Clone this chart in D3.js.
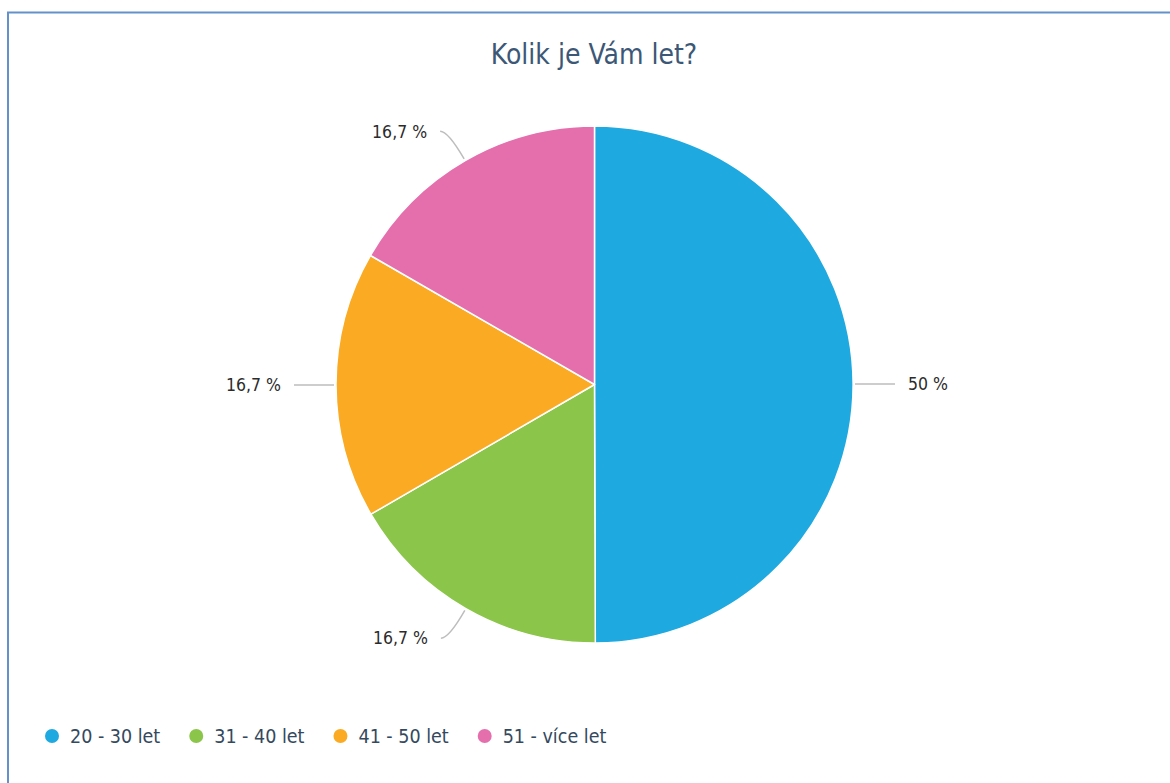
<!DOCTYPE html>
<html>
<head>
<meta charset="utf-8">
<script src="https://cdn.jsdelivr.net/npm/d3@7"></script>
<style>
  html, body { margin: 0; padding: 0; background: #fff; }
  svg { display: block; }
  text { font-family: "DejaVu Sans Condensed", "DejaVu Sans", sans-serif; font-stretch: condensed; }
</style>
</head>
<body>
<div id="chart"></div>
<script>
// chart data
var title = 'Kolik je Vám let?';
var categories = ['20 - 30 let', '31 - 40 let', '41 - 50 let', '51 - více let'];
var shares = [50, 16.7, 16.7, 16.7];
var colors = ['#1fa9e1', '#8bc54a', '#fbaa23', '#e56fad'];

var width = 1170;
var height = 783;

var svg = d3.select('#chart').append('svg')
  .attr('width', width)
  .attr('height', height);

// frame (only top and left edges are visible in the shot)
svg.append('rect')
  .attr('x', 8)
  .attr('y', 12.5)
  .attr('width', width + 20)
  .attr('height', height + 20)
  .attr('fill', 'none')
  .attr('stroke', '#6591cb')
  .attr('stroke-width', 2);

svg.append('text')
  .attr('x', 594)
  .attr('y', 64)
  .attr('text-anchor', 'middle')
  .attr('font-size', 28)
  .attr('fill', '#3c5876')
  .text(title);

var cx = 594.5;
var cy = 384.5;
var radius = 258.5;

var pie = d3.pie().sort(null).value(function(d) { return d; });
var arcs = pie(shares);

var arc = d3.arc().innerRadius(0).outerRadius(radius);

var g = svg.append('g')
  .attr('transform', 'translate(' + cx + ',' + cy + ')');

g.selectAll('.slice')
  .data(arcs)
  .enter().append('path')
    .attr('class', 'slice')
    .attr('d', arc)
    .attr('fill', function(d, i) { return colors[i]; })
    .attr('stroke', '#fff')
    .attr('stroke-width', 1.5)
    .attr('stroke-linejoin', 'round');

var fmt = d3.formatLocale({ decimal: ',', thousands: ' ', grouping: [3], currency: ['', ''] }).format('.3~r');

function labelGeom(d) {
  var a = (d.startAngle + d.endAngle) / 2;
  var s = Math.sin(a), c = -Math.cos(a);
  var side = s >= 0 ? 1 : -1;
  var p0 = [(radius + 2) * s, (radius + 2) * c];
  var p1 = [(radius + 34) * s, (radius + 34) * c];
  var p2 = [p1[0] + side * 8, p1[1]];
  return { p0: p0, p1: p1, p2: p2, side: side };
}

g.selectAll('.connector')
  .data(arcs)
  .enter().append('path')
    .attr('class', 'connector')
    .attr('d', function(d) {
      var l = labelGeom(d);
      return 'M' + l.p0 + 'Q' + l.p1 + ' ' + l.p2;
    })
    .attr('fill', 'none')
    .attr('stroke', '#bdbdbd')
    .attr('stroke-width', 1.5);

g.selectAll('.label')
  .data(arcs)
  .enter().append('text')
    .attr('class', 'label')
    .attr('x', function(d) { var l = labelGeom(d); return l.p2[0] + l.side * 13; })
    .attr('y', function(d) { return labelGeom(d).p2[1]; })
    .attr('dy', '0.36em')
    .attr('text-anchor', function(d) { return labelGeom(d).side > 0 ? 'start' : 'end'; })
    .attr('font-size', 17.5)
    .attr('fill', '#2b2b2b')
    .text(function(d) { return fmt(d.value) + ' %'; });

// legend
var legend = svg.append('g').attr('transform', 'translate(0,736)');
var lx = 52;
categories.forEach(function(name, i) {
  legend.append('circle')
    .attr('cx', lx)
    .attr('cy', 0)
    .attr('r', 7)
    .attr('fill', colors[i]);
  var t = legend.append('text')
    .attr('x', lx + 18)
    .attr('y', 0)
    .attr('dy', '0.36em')
    .attr('font-size', 19.5)
    .attr('fill', '#34495e')
    .text(name);
  lx += 18 + t.node().getComputedTextLength() + 36;
});
</script>
</body>
</html>
